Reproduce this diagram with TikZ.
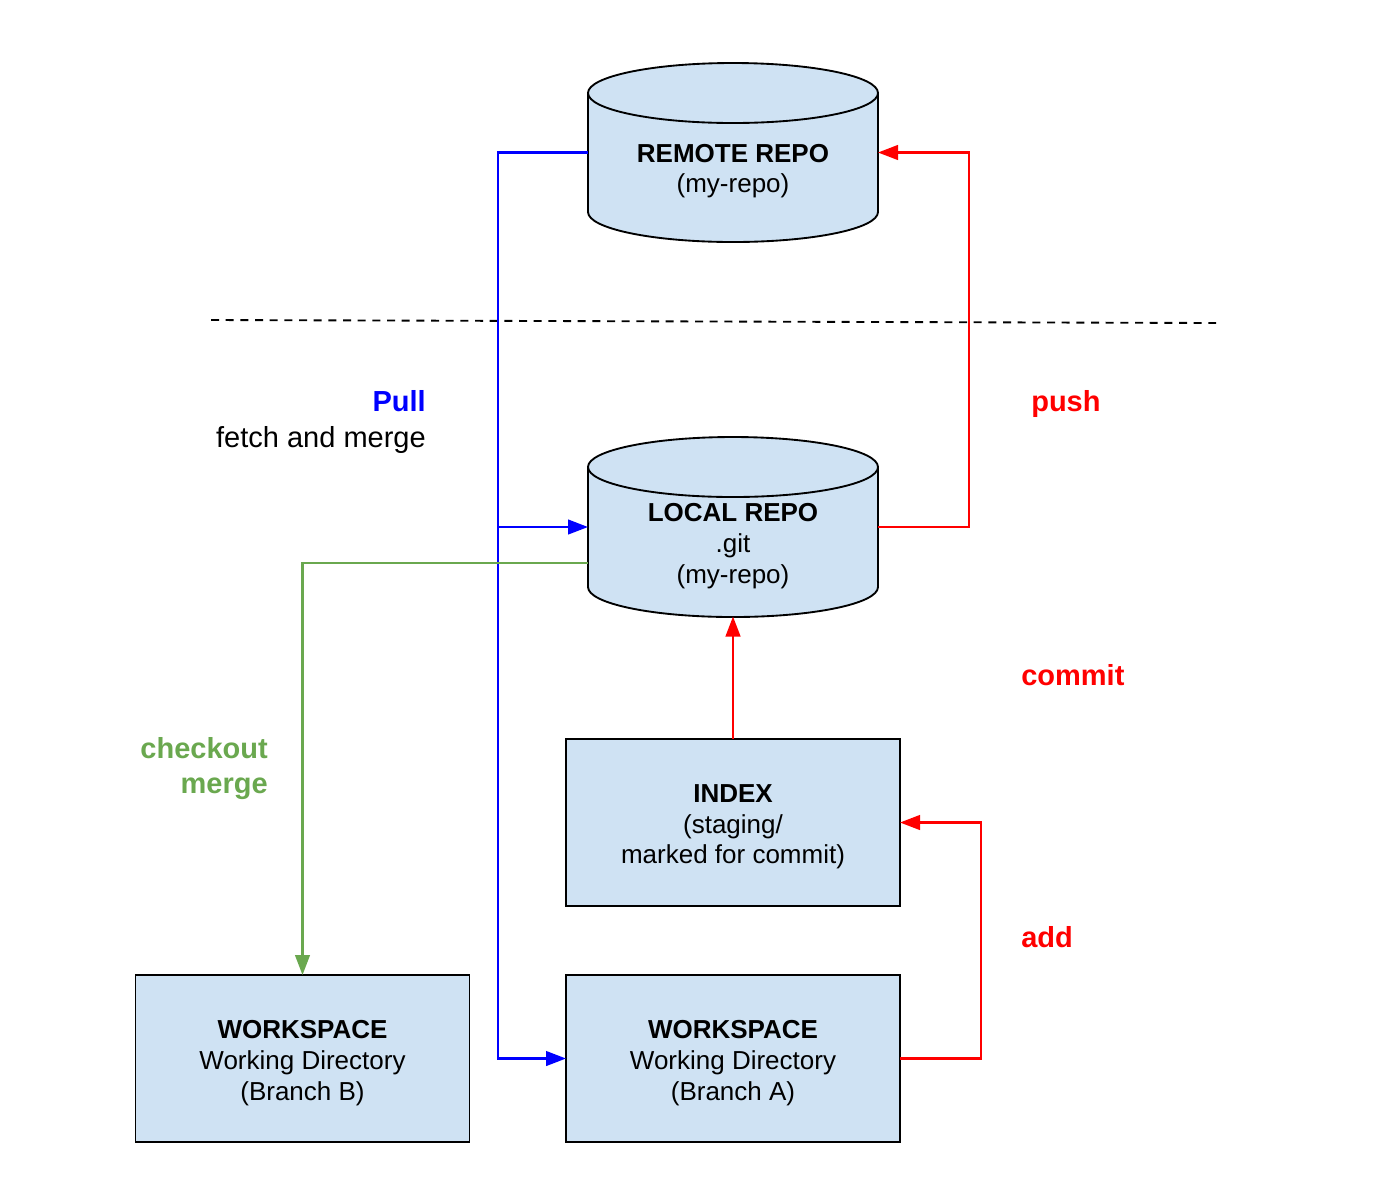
\documentclass[tikz,border=0pt]{standalone}
\usepackage{fontspec}
\setmainfont{Liberation Sans}
\usetikzlibrary{arrows.meta,calc}
\definecolor{boxfill}{HTML}{CFE2F3}
\definecolor{pullblue}{HTML}{0000FF}
\definecolor{pushred}{HTML}{FF0000}
\definecolor{cogreen}{HTML}{6AA84F}
\begin{document}
\begin{tikzpicture}[x=0.75pt,y=0.75pt,
  boxtext/.style={font=\fontsize{19.5pt}{23pt}\selectfont, align=center, inner sep=0pt},
  lbl/.style={font=\fontsize{21.75pt}{26.5pt}\selectfont, inner sep=0pt},
  boldlbl/.style={lbl, font=\fontsize{21.75pt}{26.5pt}\selectfont\bfseries},
  cylbox/.style={rectangle, inner sep=0pt, outer sep=0pt, minimum width=217.5pt, minimum height=134.25pt},
  flatbox/.style={rectangle, draw=black, line width=1.4pt, fill=boxfill, inner sep=0pt, outer sep=0pt,
     minimum width=250.5pt, minimum height=125.25pt},
  cylshape/.style={draw=black, line width=1.4pt, fill=boxfill},
  conn/.style={line width=1.7pt, -{Triangle[length=15pt,width=11pt]}},
  bl/.style={conn, draw=pullblue},
  rd/.style={conn, draw=pushred},
  gr/.style={conn, draw=cogreen}
]
\useasboundingbox (0,0) rectangle (1376,-1183);

% remote repo cylinder
\filldraw[cylshape] (588,-93) -- (588,-212) arc[start angle=180,end angle=360,x radius=145,y radius=30]
  -- (878,-93) arc[start angle=0,end angle=180,x radius=145,y radius=30] -- cycle;
\draw[line width=1.4pt] (588,-93) arc[start angle=180,end angle=360,x radius=145,y radius=30];
\node[cylbox] (remote) at (733,-152.5) {};
\node[boxtext] (remotetxt) at (733,-171) {\textbf{REMOTE REPO}\\(my-repo)};

% local repo cylinder
\filldraw[cylshape] (588,-467) -- (588,-587) arc[start angle=180,end angle=360,x radius=145,y radius=30]
  -- (878,-467) arc[start angle=0,end angle=180,x radius=145,y radius=30] -- cycle;
\draw[line width=1.4pt] (588,-467) arc[start angle=180,end angle=360,x radius=145,y radius=30];
\node[cylbox] (local) at (733,-527) {};
\node[boxtext] (localtxt) at (733,-546) {\textbf{LOCAL REPO}\\.git\\(my-repo)};

% boxes
\node[flatbox] (index) at (733,-822.5) {};
\node[boxtext] (indextxt) at (733,-827) {\textbf{INDEX}\\(staging/\\marked for commit)};
\node[flatbox] (wsa) at (733,-1058.5) {};
\node[boxtext] (wsatxt) at (733,-1063) {\textbf{WORKSPACE}\\Working Directory\\(Branch A)};
\node[flatbox] (wsb) at (302.5,-1058.5) {};
\node[boxtext] (wsbtxt) at (302.5,-1063) {\textbf{WORKSPACE}\\Working Directory\\(Branch B)};

% dashed separator
\coordinate (dashl) at (211,-320);
\coordinate (dashr) at (1216,-323);
\draw[line width=1.4pt, dash pattern=on 6pt off 5pt] (dashl) -- (dashr);

% pull (blue)
\coordinate (pj) at (498,-527);
\draw[bl] (remote.west) -- (498,-152.5) |- (wsa.west);
\draw[bl] (pj) -- (local.west);

% push (red)
\draw[rd] (local.east) -- ++(91,0) |- (remote.east);
% commit
\draw[rd] (index.north) -- (local.south);
% add
\draw[rd] (wsa.east) -- ++(81,0) |- (index.east);
% checkout / merge (green)
\draw[gr] ([yshift=-27pt]local.west) -| (wsb.north);

% labels
\node[lbl, anchor=east, align=right] (pulllbl) at (426,-422) {{\color{pullblue}\bfseries Pull}\\fetch and merge};
\node[boldlbl, anchor=west, text=pushred] (pushlbl) at (1031,-404) {push};
\node[boldlbl, anchor=west, text=pushred] (commitlbl) at (1021,-675) {commit};
\node[boldlbl, anchor=west, text=pushred] (addlbl) at (1021,-937) {add};
\node[boldlbl, anchor=east, align=right, text=cogreen] (colbl) at (268,-768.5) {checkout\\merge};
\end{tikzpicture}
\end{document}
